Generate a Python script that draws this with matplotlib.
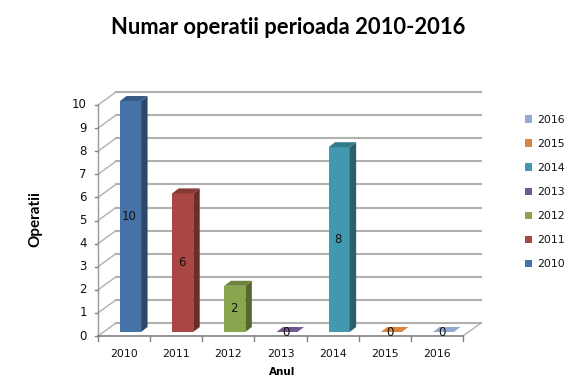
import matplotlib
matplotlib.use("Agg")
import matplotlib.pyplot as plt
from matplotlib.patches import Polygon, Patch

years = ["2010", "2011", "2012", "2013", "2014", "2015", "2016"]
values = [10, 6, 2, 0, 8, 0, 0]
colors = ["#4572A7", "#AA4643", "#89A54E", "#71588F", "#4198AF", "#DB843D", "#93A9CF"]
top_colors = ["#375B86", "#883835", "#6E843E", "#5A4672", "#347A8C", "#AF6A31", "#7587A6"]
side_colors = ["#2C4868", "#6C2C2A", "#566730", "#463758", "#28606E", "#895226", "#5C6A82"]

W, H = 576, 384
fig = plt.figure(figsize=(5.76, 3.84), dpi=100)
ax = fig.add_axes([98 / W, 1 - 336 / H, 365 / W, 231 / H])
ax.set_xlim(-0.5, 6.5)
ax.set_ylim(0, 10)
ax.axis("off")

# pixels -> data units, for the fake 3d depth
px_x = 7 / 365
px_y = 10 / 231
back_x, back_y = 18 * px_x, 13 * px_y
bar_x, bar_y = 6.5 * px_x, 4 * px_y
depth_x, depth_y = 6.5 * px_x, 5 * px_y
bar_w = 21 * px_x
grid = "#b0b0b0"

# walls
for v in range(0, 11):
    ax.plot([-0.5 + back_x, 6.5 + back_x], [v + back_y, v + back_y], color=grid, lw=1.5, clip_on=False, zorder=1)
    ax.plot([-0.5, -0.5 + back_x], [v, v + back_y], color=grid, lw=1, clip_on=False, zorder=1)
    ax.plot([-0.5 - 3 * px_x, -0.5], [v, v], color="#808080", lw=1, clip_on=False, zorder=1)
    ax.text(-0.5 - 11 * px_x, v, str(v), ha="right", va="center", fontsize=8.5, color="#111111")
ax.plot([-0.5, -0.5], [0, 10], color="#9a9a9a", lw=1, clip_on=False, zorder=1)
ax.plot([-0.5, 6.5], [0, 0], color="#808080", lw=1.2, clip_on=False, zorder=2)
ax.plot([6.5, 6.5 + back_x], [0, back_y], color=grid, lw=1, clip_on=False, zorder=1)
for i in range(8):
    ax.plot([i - 0.5, i - 0.5], [0, -5 * px_y], color="#808080", lw=1, clip_on=False, zorder=1)

# bars
for i, v in enumerate(values):
    x0 = i + bar_x - bar_w / 2
    x1 = i + bar_x + bar_w / 2
    y0 = bar_y
    y1 = v + bar_y
    front = Polygon([(x0, y0), (x1, y0), (x1, y1), (x0, y1)], fc=colors[i], ec="none", zorder=3, clip_on=False)
    side = Polygon([(x1, y0), (x1 + depth_x, y0 + depth_y), (x1 + depth_x, y1 + depth_y), (x1, y1)],
                   fc=side_colors[i], ec="none", zorder=3, clip_on=False)
    top = Polygon([(x0, y1), (x1, y1), (x1 + depth_x, y1 + depth_y), (x0 + depth_x, y1 + depth_y)],
                  fc=top_colors[i] if v > 0 else colors[i], ec="none", zorder=3, clip_on=False)
    ax.add_patch(front)
    if v > 0:
        ax.add_patch(side)
    ax.add_patch(top)
    ax.text(i + bar_x - 1 * px_x, v / 2 + bar_y, str(v), ha="center", va="center", fontsize=8.5, color="#111111", zorder=5, clip_on=False)
    ax.text(i, -18 * px_y, years[i], ha="center", va="center", fontsize=7.8, color="#111111")

# title and axis names
fig.text(288.5 / W, 1 - 27 / H, "Numar operatii perioada 2010-2016", ha="center", va="center",
         fontsize=15.8, fontweight="bold", family="Lato", color="black")
fig.text(35 / W, 1 - 219 / H, "Operatii", rotation=90, ha="center", va="center",
         fontsize=11, fontweight="bold", family="Lato", color="black")
fig.text(282 / W, 1 - 372 / H, "Anul", ha="center", va="center",
         fontsize=7.5, fontweight="bold", color="black", family="DejaVu Sans")

# legend, 2016 on top
handles = [Patch(fc=c, ec="none", label=y) for y, c in zip(years[::-1], colors[::-1])]
fig.legend(handles=handles, loc="center left", bbox_to_anchor=(525 / W, 1 - 192 / H), frameon=False,
           fontsize=7.8, handlelength=0.65, handleheight=0.65, handletextpad=0.45, labelspacing=1.3,
           borderpad=0, borderaxespad=0, labelcolor="#111111")

fig.savefig("out.png", dpi=100)
